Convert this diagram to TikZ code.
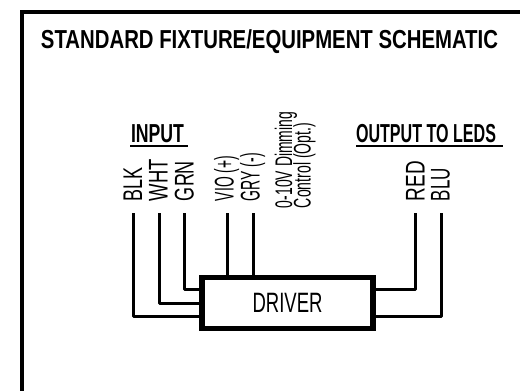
\documentclass[tikz,border=0pt]{standalone}
\usepackage{fontspec}
\usepackage{graphicx}
\setmainfont{Liberation Sans}
\newcommand{\wfit}[2]{\resizebox{#1pt}{\height}{#2}}
\tikzset{
  x=1pt,y=-1pt,
  txt/.style={inner sep=0pt,outer sep=0pt,anchor=base west,text=black},
  head/.style={txt,font=\bfseries\fontsize{26}{26}\selectfont},
  wirelabel/.style={txt,rotate=90,font=\fontsize{27}{27}\selectfont},
  dimlabel/.style={txt,rotate=90,font=\fontsize{24}{24}\selectfont},
  wire/.style={draw=black,line width=3pt,line join=round},
  rule/.style={draw=black,line width=1.5pt},
  frameline/.style={draw=black,line width=3.4pt,line join=miter},
  driverbox/.style={draw=black,line width=5.4pt,minimum width=171pt,minimum height=51pt,inner sep=0pt,outer sep=0pt,font=\fontsize{28}{28}\selectfont}
}
\begin{document}
\begin{tikzpicture}
\useasboundingbox (0,0) rectangle (520,391);
\draw[frameline] (22,391) -- (22,12) -- (520,12);
\node[head] (title) at (41,48) {\wfit{457}{STANDARD FIXTURE/EQUIPMENT SCHEMATIC}};
\node[head] (input) at (131,142.5) {\wfit{53}{INPUT}};
\node[head] (output) at (356,142.5) {\wfit{140}{OUTPUT TO LEDS}};
\draw[rule] (130,145.8) -- (188,145.8);
\draw[rule] (356,145.8) -- (502.5,145.8);
\node[wirelabel] (lblk) at (142,201) {\wfit{34}{BLK}};
\node[wirelabel] (lwht) at (167.5,201) {\wfit{42}{WHT}};
\node[wirelabel] (lgrn) at (193.5,201) {\wfit{40}{GRN}};
\node[wirelabel] (lvio) at (233.5,201) {\wfit{45}{VIO (+)}};
\node[wirelabel] (lgry) at (259.5,201) {\wfit{48}{GRY (-)}};
\node[dimlabel] (ldim) at (292,208) {\wfit{96}{0-10V Dimming}};
\node[dimlabel] (lctl) at (310.5,208) {\wfit{85}{Control (Opt.)}};
\node[wirelabel] (lred) at (424.5,201) {\wfit{40}{RED}};
\node[wirelabel] (lblu) at (449.5,201) {\wfit{33}{BLU}};
\node[driverbox] (driver) at (287.5,303) {\wfit{70}{DRIVER}};
\coordinate (tblk) at (133,213);
\coordinate (twht) at (159,213);
\coordinate (tgrn) at (184.5,213);
\coordinate (tvio) at (227,213);
\coordinate (tgry) at (253,213);
\coordinate (tred) at (415.7,213);
\coordinate (tblu) at (441,213);
\coordinate (yupper) at (0,289);
\coordinate (ymid) at (0,303);
\coordinate (ylower) at (0,316.5);
\draw[wire] (tblk) |- (driver.west |- ylower);
\draw[wire] (twht) |- (driver.west |- ymid);
\draw[wire] (tgrn) |- (driver.west |- yupper);
\draw[wire] (tvio) -- (tvio |- driver.north);
\draw[wire] (tgry) -- (tgry |- driver.north);
\draw[wire] (tred) |- (driver.east |- yupper);
\draw[wire] (tblu) |- (driver.east |- ylower);
\end{tikzpicture}
\end{document}
